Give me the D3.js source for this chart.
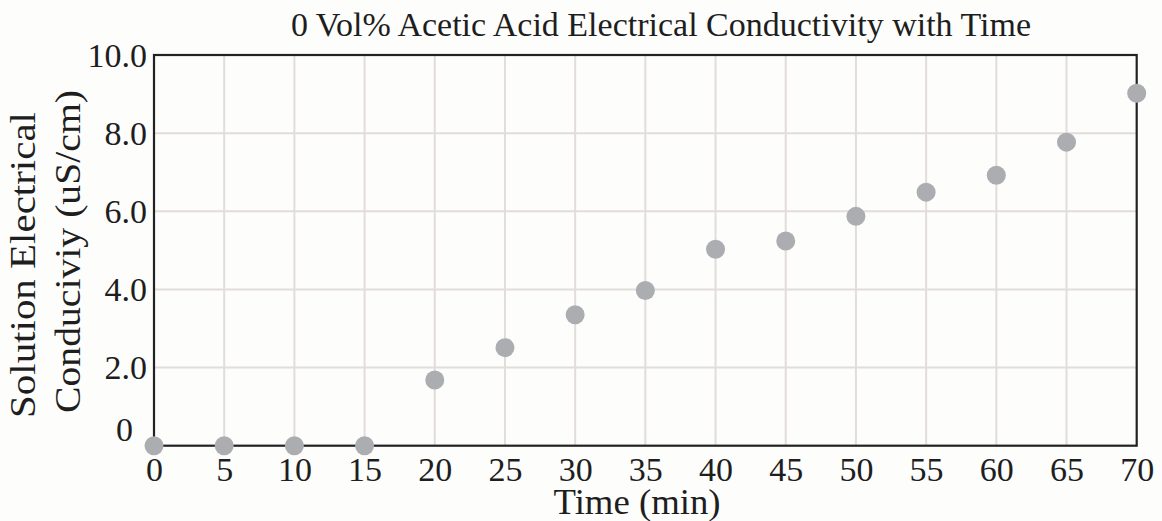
<!DOCTYPE html>
<html>
<head>
<meta charset="utf-8">
<script src="https://cdn.jsdelivr.net/npm/d3@7"></script>
<style>
  html, body { margin: 0; padding: 0; background: #fdfdfc; }
  svg { display: block; }
  text { font-family: "Liberation Serif", "Times New Roman", serif; fill: #1e1e1e; }
</style>
</head>
<body>
<svg id="chart" width="1162" height="521"></svg>
<script>
const timeMin = [0, 5, 10, 15, 20, 25, 30, 35, 40, 45, 50, 55, 60, 65, 70];
const conductivity = [0, 0, 0, 0, 1.68, 2.51, 3.35, 3.97, 5.03, 5.24, 5.87, 6.49, 6.92, 7.77, 9.02];
const xTicks = [0, 5, 10, 15, 20, 25, 30, 35, 40, 45, 50, 55, 60, 65, 70];
const yTicks = [0, 2, 4, 6, 8, 10];
const yTickLabels = ["0", "2.0", "4.0", "6.0", "8.0", "10.0"];
const titleText = "0 Vol% Acetic Acid Electrical Conductivity with Time";
const xLabel = "Time (min)";
const yLabelLines = ["Solution Electrical", "Conduciviy (uS/cm)"];

const svg = d3.select("#chart");
const L = 154, R = 1136.7, T = 55, B = 445.7;
const x = d3.scaleLinear().domain([0, 70]).range([L, R]);
const y = d3.scaleLinear().domain([0, 10]).range([B, T]);

const gridColor = "#e2ddd8";
const axisColor = "#222";

// gridlines
svg.append("g").selectAll("line")
  .data(xTicks.filter(d => d > 0 && d < 70))
  .join("line")
  .attr("x1", d => x(d)).attr("x2", d => x(d))
  .attr("y1", T).attr("y2", B)
  .attr("stroke", gridColor).attr("stroke-width", 2);
svg.append("g").selectAll("line")
  .data(yTicks.filter(d => d > 0 && d < 10))
  .join("line")
  .attr("x1", L).attr("x2", R)
  .attr("y1", d => y(d)).attr("y2", d => y(d))
  .attr("stroke", gridColor).attr("stroke-width", 2);

// frame
svg.append("rect")
  .attr("x", L).attr("y", T).attr("width", R - L).attr("height", B - T)
  .attr("fill", "none").attr("stroke", axisColor).attr("stroke-width", 2.2);

// x axis labels
const xAxis = d3.axisBottom(x).tickValues(xTicks).tickSize(0).tickPadding(0).tickFormat(d3.format("d"));
const gx = svg.append("g").attr("transform", `translate(0,${B})`).call(xAxis);
gx.select(".domain").remove();
gx.selectAll("text")
  .attr("y", 35.5).attr("dy", null)
  .style("font-size", "34px").style("font-family", '"Liberation Serif", serif').attr("fill", "#1e1e1e");

// y axis labels
const yAxis = d3.axisLeft(y).tickValues(yTicks).tickSize(0).tickPadding(0)
  .tickFormat((d, i) => yTickLabels[i]);
const gy = svg.append("g").attr("transform", `translate(${L - 7},0)`).call(yAxis);
gy.select(".domain").remove();
gy.selectAll("text")
  .style("font-size", "34px").style("font-family", '"Liberation Serif", serif').attr("fill", "#1e1e1e")
  .attr("dy", "0.33em")
  .attr("x", d => d === 0 ? -14 : 0)
  .attr("transform", d => d === 0 ? "translate(0,-16)" : null);

// points
svg.append("g").selectAll("circle")
  .data(timeMin.map((t, i) => ({ t, v: conductivity[i] })))
  .join("circle")
  .attr("cx", d => x(d.t)).attr("cy", d => y(d.v))
  .attr("r", 9.5).attr("fill", "#abadb1");

// title
svg.append("text")
  .attr("x", 661).attr("y", 36).attr("text-anchor", "middle")
  .style("font-size", "34px").text(titleText);

// x label
svg.append("text")
  .attr("x", 637).attr("y", 514).attr("text-anchor", "middle")
  .attr("textLength", 167).attr("lengthAdjust", "spacingAndGlyphs")
  .style("font-size", "35px").text(xLabel);

// y label (two lines, stretched along their length like the reference)
svg.append("text").attr("text-anchor", "middle").style("font-size", "35px")
  .attr("transform", "translate(35,265) rotate(-90)")
  .attr("textLength", 306).attr("lengthAdjust", "spacingAndGlyphs")
  .text(yLabelLines[0]);
svg.append("text").attr("text-anchor", "middle").style("font-size", "35px")
  .attr("transform", "translate(80,251.5) rotate(-90)")
  .attr("textLength", 323).attr("lengthAdjust", "spacingAndGlyphs")
  .text(yLabelLines[1]);
</script>
</body>
</html>
